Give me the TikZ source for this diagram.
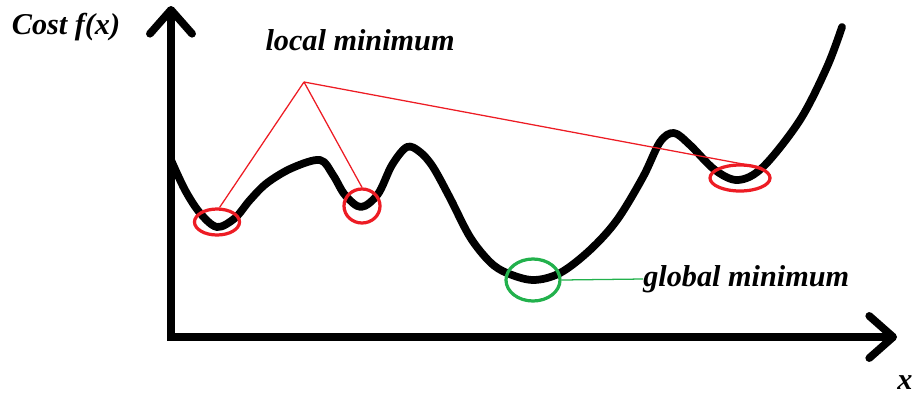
\documentclass[tikz,border=0pt]{standalone}
\usepackage{fontspec}
\setmainfont{Liberation Serif}
\usepackage{tikz}
\usetikzlibrary{arrows.meta,shapes.geometric}
\definecolor{paintred}{RGB}{237,28,36}
\definecolor{paintgreen}{RGB}{34,177,76}

\begin{document}
\begin{tikzpicture}[x=0.025cm,y=-0.025cm,
        font=\fontsize{21.5}{25}\selectfont\bfseries\itshape,
        axis/.style={line width=5.5pt,-{Straight Barb[round,length=17pt 0,width=30pt 0]}},
        curve/.style={line width=5.5pt,line cap=round,line join=round},
        ring/.style={ellipse,draw,line width=2.3pt,inner sep=0pt},
        pointer/.style={draw=paintred,line width=0.9pt}]
        \useasboundingbox (0,0) rectangle (912,396);
        \coordinate (o) at (171,337);
        \coordinate (ytip) at (171,6);
        \coordinate (xtip) at (897,337);
        \draw[axis] (o)--(ytip); \draw[axis] ([xshift=-2.7pt]o)--(xtip);
        \draw[curve] plot[smooth,tension=0.55] coordinates {(171,160) (185,190)
          (200,213) (217,227) (235,218) (250,200) (267,183) (292,168) (320,160)
          (333,175) (345,195) (361,207) (378,194) (392,165) (407,147) (420,152)
          (433,167) (450,198) (470,237) (490,262) (507,273) (533,280) (560,273)
          (590,250) (617,220) (643,177) (660,142) (674,133) (690,145) (715,170)
          (738,180) (763,167) (800,120) (827,67) (842,27)};
        \node[ring,draw=paintred,minimum width=1.125cm,minimum height=0.65cm] (e1) at (217,222) {};
        \node[ring,draw=paintred,minimum width=0.9cm,minimum height=0.85cm] (e2) at (362,206) {};
        \node[ring,draw=paintred,minimum width=1.5cm,minimum height=0.65cm] (e3) at (740,178) {};
        \node[ring,draw=paintgreen,minimum width=1.35cm,minimum height=1.05cm] (g) at (533,280) {};
        \node (cost) at (66,27) {Cost f(x)};
        \node (loc) at (360,40) {local minimum};
        \node[anchor=west,inner sep=0pt] (glob) at (643,279) {global minimum};
        \node (xlab) at (905,383) {x};
        \coordinate (apex) at (304,82);
        \draw[pointer] (apex)--(e1.80); \draw[pointer] (apex)--(e2.north);
        \draw[pointer] (apex)--(e3.north east);
        \draw[draw=paintgreen,line width=0.9pt] (g.east)--(glob.west);
      \end{tikzpicture}
\end{document}
